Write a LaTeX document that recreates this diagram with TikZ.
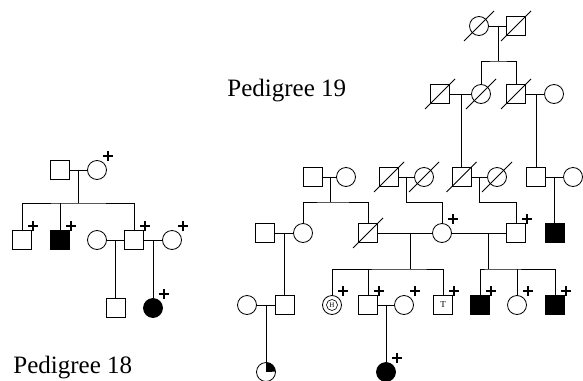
\documentclass[tikz,border=0pt]{standalone}
\usepackage{fontspec}
\setmainfont{Liberation Serif}
\begin{document}
\begin{tikzpicture}[x=1pt,y=-1pt,line width=0.8pt,
  sq/.style={draw,minimum size=19pt,inner sep=0pt},
  ci/.style={draw,circle,minimum size=19pt,inner sep=0pt},
  aff/.style={fill=black},
  lbl/.style={font=\fontsize{25}{25}\selectfont,anchor=base west,inner sep=0pt}]
\useasboundingbox (0,0) rectangle (583,380);
\newcommand\pmark[1]{\draw[line width=1.1pt] ([shift={(6pt,14pt)}]#1.center) -- ([shift={(16pt,14pt)}]#1.center) ([shift={(11pt,9pt)}]#1.center) -- ([shift={(11pt,19pt)}]#1.center);}
\newcommand\xmark[1]{\draw ([shift={(-15pt,-15pt)}]#1.center) -- ([shift={(15pt,15pt)}]#1.center);}

% ---------------- Pedigree 18 ----------------
\node[lbl] (t18) at (13,373.5) {Pedigree 18};
\node[sq] (a1) at (60,170) {};
\node[ci] (a2) at (97,170) {};
\pmark{a2}
\draw (a1) -- (a2);
\coordinate (ma) at (78.5,170);
\coordinate (sa) at (78.5,203);
\draw (ma) -- (sa);
\node[sq] (b1) at (22,240) {};
\node[sq,aff] (b2) at (60,240) {};
\node[ci] (b3) at (97,240) {};
\node[sq] (b4) at (134,240) {};
\node[ci] (b5) at (172,240) {};
\pmark{b1}\pmark{b2}\pmark{b4}\pmark{b5}
\draw (b1.north) |- (sa) -| (b4.north);
\draw (b2.north) -- (b2.north |- sa);
\draw (b3) -- (b4);
\draw (b4) -- (b5);
\node[sq] (c1) at (115.5,308) {};
\node[ci,aff] (c2) at (153,308) {};
\pmark{c2}
\coordinate (mb) at (115.5,240);
\coordinate (mc) at (153,240);
\draw (mb) -- (c1);
\draw (mc) -- (c2);

% ---------------- Pedigree 19 ----------------
\node[lbl] (t19) at (227,96.5) {Pedigree 19};
% generation I
\node[ci] (t1) at (479,26) {};
\node[sq] (t2) at (516,26) {};
\xmark{t1}\xmark{t2}
\draw (t1) -- (t2);
\coordinate (mt) at (498,26);
\coordinate (st) at (498,61);
\draw (mt) -- (st);
% generation II
\node[sq] (u1) at (440,94) {};
\node[ci] (u2) at (481,94) {};
\node[sq] (u3) at (516,94) {};
\node[ci] (u4) at (554,94) {};
\xmark{u1}\xmark{u2}\xmark{u3}
\draw (u2.north) |- (st) -| (u3.north);
\draw (u1) -- (u2);
\draw (u3) -- (u4);
% generation III
\node[sq] (v1) at (313,177) {};
\node[ci] (v2) at (346,177) {};
\node[sq] (v3) at (389,177) {};
\node[ci] (v4) at (424,177) {};
\node[sq] (v5) at (461.5,177) {};
\node[ci] (v6) at (497,177) {};
\node[sq] (v7) at (536,177) {};
\node[ci] (v8) at (573,177) {};
\xmark{v3}\xmark{v4}\xmark{v5}\xmark{v6}
\coordinate (mu1) at (461.5,94);
\coordinate (mu2) at (536,94);
\draw (mu1) -- (v5);
\draw (mu2) -- (v7);
\draw (v1) -- (v2);
\draw (v3) -- (v4);
\draw (v5) -- (v6);
\draw (v7) -- (v8);
\coordinate (mv1) at (330,177);
\coordinate (mv2) at (406.5,177);
\coordinate (mv3) at (479.5,177);
\coordinate (mv4) at (554.5,177);
\coordinate (sv1) at (330,202);
\coordinate (sv2) at (406.5,202);
\coordinate (sv3) at (479.5,202);
% generation IV
\node[sq] (w1) at (265,233) {};
\node[ci] (w2) at (303,233) {};
\node[sq] (w3) at (368,233) {};
\node[ci] (w4) at (442,233) {};
\node[sq] (w5) at (516,233) {};
\node[sq,aff] (w6) at (554.5,233) {};
\xmark{w3}
\pmark{w4}\pmark{w5}
\draw (mv1) -- (sv1);
\draw (w2.north) |- (sv1) -| (w3.north);
\draw (mv2) -- (sv2) -| (w4.north);
\draw (mv3) -- (sv3) -| (w5.north);
\draw (mv4) -- (w6);
\draw (w1) -- (w2);
\draw (w3) -- (w4);
\draw (w4) -- (w5);
\coordinate (mw1) at (284.5,233);
\coordinate (mw2) at (410,233);
\coordinate (mw3) at (488,233);
\coordinate (sw2) at (410,269);
\coordinate (sw3) at (488,269);
% generation V
\node[ci] (x1) at (247,305) {};
\node[sq] (x2) at (284.5,305) {};
\node[ci] (x3) at (332,305) {};
\node[sq] (x4) at (368,305) {};
\node[ci] (x5) at (404,305) {};
\node[sq] (x6) at (443,305) {};
\node[sq,aff] (y1) at (480,305) {};
\node[ci] (y2) at (517,305) {};
\node[sq,aff] (y3) at (555,305) {};
\draw[line width=0.6pt] (x3) circle[radius=5.5pt];
\node[font=\fontsize{7}{7}\selectfont,inner sep=0pt] (x3l) at (x3) {H};
\node[font=\fontsize{9}{9}\selectfont,inner sep=0pt] (x6l) at (x6) {T};
\pmark{x3}\pmark{x4}\pmark{x5}\pmark{x6}\pmark{y1}\pmark{y2}\pmark{y3}
\draw (mw1) -- (x2);
\draw (mw2) -- (sw2);
\draw (x3.north) |- (sw2) -| (x6.north);
\draw (x4.north) -- (x4.north |- sw2);
\draw (mw3) -- (sw3);
\draw (y1.north) |- (sw3) -| (y3.north);
\draw (y2.north) -- (y2.north |- sw3);
\draw (x1) -- (x2);
\draw (x4) -- (x5);
\coordinate (mx1) at (266,305);
\coordinate (mx2) at (386,305);
% generation VI
\node[ci] (z1) at (266,372) {};
\fill (z1.center) -- (z1.north) arc[start angle=90,end angle=0,radius=9.5pt] -- cycle;
\node[ci,aff] (z2) at (386,372) {};
\pmark{z2}
\draw (mx1) -- (z1);
\draw (mx2) -- (z2);
\end{tikzpicture}
\end{document}
